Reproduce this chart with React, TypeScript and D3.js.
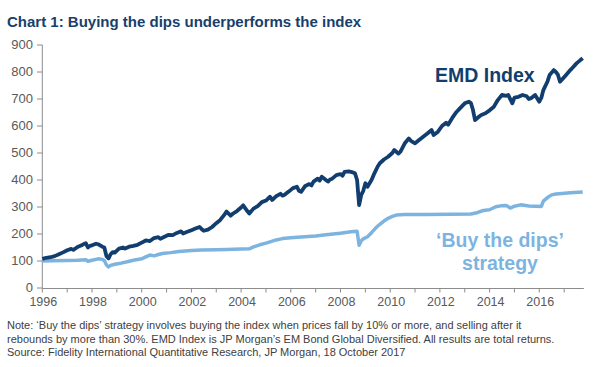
import React from 'react';
import * as d3 from 'd3';

// EMD Index, rebased to 100
const emdDates = [
  '1996-01', '1996-03', '1996-05', '1996-07', '1996-09', '1996-11', '1997-01', '1997-03', '1997-04', '1997-06',
  '1997-08', '1997-09', '1997-10', '1997-11', '1997-12', '1998-01', '1998-03', '1998-04', '1998-05', '1998-06',
  '1998-07', '1998-08', '1998-09', '1998-10', '1998-11', '1998-12', '1999-02', '1999-04', '1999-05', '1999-07',
  '1999-09', '1999-11', '2000-01', '2000-03', '2000-05', '2000-07', '2000-09', '2000-10', '2000-12', '2001-02',
  '2001-04', '2001-06', '2001-08', '2001-09', '2001-11', '2002-01', '2002-03', '2002-05', '2002-06', '2002-07',
  '2002-09', '2002-11', '2003-01', '2003-03', '2003-05', '2003-06', '2003-08', '2003-09', '2003-11', '2004-01',
  '2004-02', '2004-04', '2004-05', '2004-07', '2004-09', '2004-11', '2005-01', '2005-03', '2005-04', '2005-06',
  '2005-08', '2005-09', '2005-10', '2005-12', '2006-02', '2006-04', '2006-05', '2006-06', '2006-08', '2006-10',
  '2006-11', '2006-12', '2007-02', '2007-03', '2007-04', '2007-06', '2007-07', '2007-08', '2007-09', '2007-11',
  '2008-01', '2008-02', '2008-03', '2008-05', '2008-07', '2008-08', '2008-09', '2008-10', '2008-11', '2008-12',
  '2009-01', '2009-02', '2009-04', '2009-05', '2009-07', '2009-08', '2009-10', '2009-12', '2010-02', '2010-03',
  '2010-05', '2010-06', '2010-08', '2010-10', '2010-11', '2011-01', '2011-03', '2011-05', '2011-07', '2011-09',
  '2011-10', '2011-12', '2012-02', '2012-04', '2012-05', '2012-07', '2012-09', '2012-11', '2013-01', '2013-03',
  '2013-04', '2013-05', '2013-06', '2013-08', '2013-09', '2013-11', '2014-01', '2014-03', '2014-05', '2014-07',
  '2014-09', '2014-10', '2014-12', '2015-01', '2015-03', '2015-05', '2015-07', '2015-08', '2015-09', '2015-11',
  '2016-01', '2016-02', '2016-03', '2016-05', '2016-06', '2016-08', '2016-09', '2016-10', '2016-11', '2016-12',
  '2017-02', '2017-04', '2017-05', '2017-07', '2017-09', '2017-10',
];
const emdValues = [
  108, 112, 114, 118, 125, 132, 140, 145, 141, 152,
  158, 163, 166, 150, 156, 158, 164, 162, 158, 153,
  150, 118, 110, 125, 133, 131, 146, 150, 146, 153,
  156, 160, 168, 176, 174, 185, 188, 182, 190, 197,
  196, 204, 210, 202, 208, 214, 220, 226, 218, 212,
  216, 226, 240, 252, 272, 283, 268, 275, 285, 298,
  306, 285, 276, 294, 303, 318, 324, 338, 326, 340,
  349, 342, 345, 357, 370, 375, 360, 356, 378, 385,
  380, 394, 405, 398, 412, 400, 394, 402, 405, 418,
  422, 416, 430, 432, 428, 425, 400, 307, 345, 360,
  388, 375, 400, 418, 450, 462, 476, 486, 500, 511,
  498, 505, 535, 554, 545, 536, 548, 560, 572, 585,
  567, 578, 600, 612, 605, 630, 652, 668, 684, 690,
  685, 660, 622, 635, 641, 647, 658, 670, 696, 715,
  712, 715, 684, 705, 708, 715, 710, 700, 703, 715,
  690, 705, 733, 765, 789, 807, 800, 790, 764, 772,
  790, 807, 815, 832, 845, 851,
];

// 'Buy the dips' strategy
const dipDates = [
  '1996-01', '1996-06', '1997-01', '1997-06', '1997-10', '1997-11', '1998-01', '1998-04', '1998-06', '1998-07',
  '1998-08', '1998-09', '1998-10', '1998-12', '1999-03', '1999-06', '1999-09', '2000-01', '2000-03', '2000-05',
  '2000-07', '2000-09', '2000-11', '2001-03', '2001-07', '2002-01', '2002-06', '2003-01', '2003-06', '2004-01',
  '2004-05', '2004-07', '2004-10', '2005-01', '2005-03', '2005-06', '2005-09', '2006-01', '2006-06', '2007-01',
  '2007-06', '2008-01', '2008-06', '2008-09', '2008-10', '2008-11', '2008-12', '2009-02', '2009-04', '2009-06',
  '2009-08', '2009-10', '2009-12', '2010-02', '2010-04', '2010-08', '2011-06', '2012-06', '2013-04', '2013-07',
  '2013-10', '2014-01', '2014-04', '2014-07', '2014-09', '2014-11', '2015-01', '2015-04', '2015-08', '2015-11',
  '2016-02', '2016-03', '2016-05', '2016-07', '2016-09', '2016-12', '2017-04', '2017-10',
];
const dipValues = [
  100, 101, 102, 103, 105, 99, 103, 108, 106, 102,
  85, 78, 84, 88, 92, 97, 103, 108, 115, 122,
  119, 124, 128, 131, 135, 139, 141, 142, 143, 144,
  145, 152, 160, 166, 171, 178, 183, 186, 189, 193,
  197, 203, 208, 210, 158, 175, 182, 190, 205, 222,
  236, 248, 258, 265, 270, 272, 272, 273, 274, 279,
  287, 290, 301, 305, 306, 296, 303, 308, 304, 303,
  302, 322, 335, 345, 348, 350, 353, 356,
];

const yTicks = [0, 100, 200, 300, 400, 500, 600, 700, 800, 900];
const yearTicks = d3.range(1996, 2018);
const yearLabels = d3.range(1996, 2017, 2);

const title = 'Chart 1: Buying the dips underperforms the index';
const notes = [
  'Note: \u2018Buy the dips\u2019 strategy involves buying the index when prices fall by 10% or more, and selling after it',
  'rebounds by more than 30%. EMD Index is JP Morgan\u2019s EM Bond Global Diversified. All results are total returns.',
  'Source: Fidelity International Quantitative Research, JP Morgan, 18 October 2017',
];

const parse = d3.timeParse('%Y-%m');
const font = 'Liberation Sans, Arial, sans-serif';
const dark = '#123e6f';
const light = '#7db4df';
const axisColor = '#8c8c8c';
const textColor = '#595959';

export default function App() {
  const x = d3.scaleTime()
    .domain([new Date(1996, 0, 1), new Date(2018, 0, 1)])
    .range([42.3, 42.3 + 22 * 24.85]);
  const y = d3.scaleLinear().domain([0, 900]).range([288, 45]);

  const emd = emdDates.map((d, i) => ({ date: parse(d)!, value: emdValues[i] }));
  const dips = dipDates.map((d, i) => ({ date: parse(d)!, value: dipValues[i] }));

  const line = d3.line<{ date: Date; value: number }>()
    .x(d => x(d.date))
    .y(d => y(d.value));

  const xEnd = x(new Date(2017, 9, 18));

  return (
    <div style={{ position: 'absolute', left: 0, top: 0 }}>
      <svg width={596} height={367} style={{ display: 'block', fontFamily: font }}>
        <rect width={596} height={367} fill="#fff" />
        <text x={7} y={27} fontSize={15} fontWeight="bold" fill="#17406d">{title}</text>

        {/* y axis */}
        <line x1={x.range()[0]} x2={x.range()[0]} y1={y(900)} y2={y(0)} stroke={axisColor} />
        {yTicks.map(t => (
          <g key={t}>
            <line x1={37} x2={x.range()[0]} y1={y(t)} y2={y(t)} stroke={axisColor} />
            <text x={33} y={y(t)} dy="0.33em" textAnchor="end" fontSize={13} fill={textColor}>{t}</text>
          </g>
        ))}

        {/* x axis */}
        <line x1={x.range()[0]} x2={xEnd} y1={y(0) + 0.5} y2={y(0) + 0.5} stroke={axisColor} />
        {yearTicks.map(yr => (
          <line key={yr} x1={x(new Date(yr, 0, 1))} x2={x(new Date(yr, 0, 1))}
            y1={y(0)} y2={y(0) + 4.5} stroke={axisColor} />
        ))}
        {yearLabels.map(yr => (
          <text key={yr} x={x(new Date(yr, 0, 1)) + 1} y={306} textAnchor="middle" fontSize={12.5} fill={textColor}>{yr}</text>
        ))}

        <path d={line(dips)!} fill="none" stroke={light} strokeWidth={3.5} strokeLinejoin="round" />
        <path d={line(emd)!} fill="none" stroke={dark} strokeWidth={3.8} strokeLinejoin="round" />

        <text x={435} y={82} fontSize={19.5} fontWeight="bold" fill={dark}>EMD Index</text>
        <text x={500} y={247} textAnchor="middle" fontSize={19.5} fontWeight="bold" fill={light}>{'\u2018Buy the dips\u2019'}</text>
        <text x={500} y={270} textAnchor="middle" fontSize={19.5} fontWeight="bold" fill={light}>strategy</text>

        {notes.map((n, i) => (
          <text key={i} x={7} y={329 + i * 13.5} fontSize={11} fill="#404040">{n}</text>
        ))}
      </svg>
    </div>
  );
}
